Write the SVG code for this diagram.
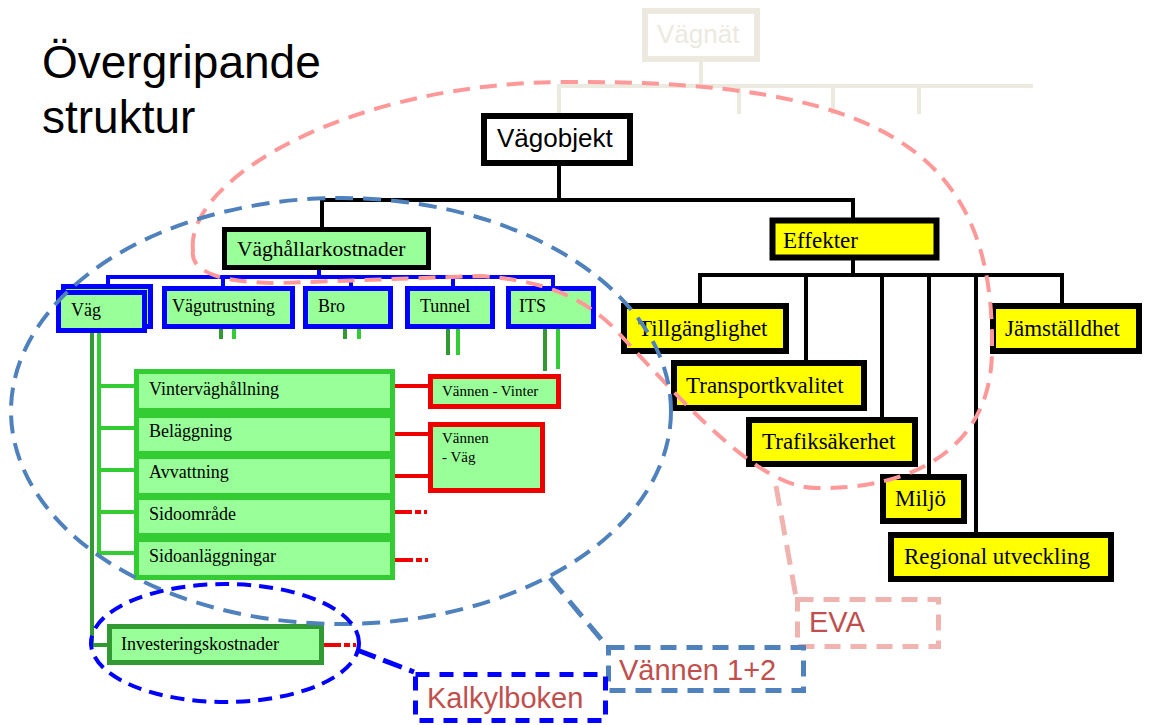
<svg xmlns="http://www.w3.org/2000/svg" width="1161" height="725" viewBox="0 0 1161 725">
<style>
.sans{font-family:"Liberation Sans",Arial,sans-serif}
.serif{font-family:"Liberation Serif","Times New Roman",serif;fill:#000}
.blk{fill:#fff;stroke:#000;stroke-width:6}
.grn{fill:#99FF99}
.bbox{fill:#99FF99;stroke:#0000FF;stroke-width:5}
.gbox{fill:#99FF99;stroke:#33CC33;stroke-width:5}
.rbox{fill:#99FF99;stroke:#EE0000;stroke-width:5}
.ybox{fill:#FFFF00;stroke:#000;stroke-width:6}
.l{fill:none;stroke-width:4}
.k{stroke:#000}
.beige{stroke:#ECE9DF}
.blue{stroke:#0000FF}
.lg{stroke:#33CC33}
.dg{stroke:#339933}
.red{stroke:#EE0000}
.reddot{stroke:#EE0000;stroke-width:4;stroke-dasharray:19 3 6 3 3 100}
.t18{font-size:18px}
.t23{font-size:23px}
.t15{font-size:15px}
.lbl{font-size:29px;fill:#C0504D}
</style>
<g id="title"><text class="sans" x="42" y="78" font-size="46">Övergripande</text><text class="sans" x="42" y="133" font-size="46">struktur</text></g>
<g id="connectors">
<path class="l beige" d="M701 62V86M557 86H1033M559 86V114M739 86V114M833 86V114M919 86V114"/>
<path class="l k" d="M559 166V200M320 200H855M322 200V227M853 200V218M853 260V275M698 275H1064M700 275V303M806 275V360M882 275V417M929 275V474M976 275V532M1062 275V303"/>
<path class="l blue" d="M319 270V277M106 277H555M108 277V284M223 277V286M351 277V286M453 277V286M553 277V286"/>
<path class="l dg" d="M221 329V339M345 329V339M448 329V355M545 329V371M92 333V645H108"/>
<path class="l lg" d="M234 329V339M359 329V339M458 329V355M558 329V369M99 333V555M99 386H136M99 428H136M99 470H136M99 512H136M99 553H136"/>
<path class="l red" d="M393 386H430M393 434H430M393 476H430"/>
<path class="reddot" d="M393 512H440M394 560H441M322 645H370"/>
</g>
<g id="vagnat"><rect x="645" y="11" width="112" height="48" fill="#fff" stroke="#ECE9DF" stroke-width="6"/><text class="sans" x="657" y="43" font-size="26" fill="#ECE9DF">Vägnät</text></g>
<g id="vagobjekt"><rect class="blk" x="484" y="116" width="146" height="47"/><text class="sans" x="497" y="147" font-size="26">Vägobjekt</text></g>
<g id="vaghallarkostnader"><rect class="grn" x="224.5" y="229.5" width="204" height="38" stroke="#000" stroke-width="5"/><text class="serif" x="237" y="256" font-size="21.5">Väghållarkostnader</text></g>
<g id="vag"><rect class="bbox" x="63.5" y="286.5" width="87" height="40"/><rect class="bbox" x="58.5" y="292.5" width="86" height="38"/><text class="serif t18" x="71" y="316">Väg</text></g>
<g id="vagutrustning"><rect class="bbox" x="164.5" y="288.5" width="128" height="38"/><text class="serif t18" x="172" y="312">Vägutrustning</text></g>
<g id="bro"><rect class="bbox" x="305.5" y="288.5" width="85" height="38"/><text class="serif t18" x="318" y="312">Bro</text></g>
<g id="tunnel"><rect class="bbox" x="407.5" y="288.5" width="85" height="38"/><text class="serif t18" x="420" y="312">Tunnel</text></g>
<g id="its"><rect class="bbox" x="508.5" y="288.5" width="85" height="38"/><text class="serif t18" x="519" y="312">ITS</text></g>
<g id="vinter"><rect class="gbox" x="136.5" y="371.5" width="256" height="39"/><text class="serif t18" x="149" y="395">Vinterväghållning</text></g>
<g id="belaggning"><rect class="gbox" x="136.5" y="415.5" width="256" height="38"/><text class="serif t18" x="149" y="437">Beläggning</text></g>
<g id="avvattning"><rect class="gbox" x="136.5" y="456.5" width="256" height="39"/><text class="serif t18" x="149" y="478">Avvattning</text></g>
<g id="sidoomrade"><rect class="gbox" x="136.5" y="497.5" width="256" height="38"/><text class="serif t18" x="149" y="520">Sidoområde</text></g>
<g id="sidoanlaggningar"><rect class="gbox" x="136.5" y="539.5" width="256" height="38"/><text class="serif t18" x="149" y="562">Sidoanläggningar</text></g>
<g id="vannen-vinter"><rect class="rbox" x="430.5" y="376.5" width="128" height="30"/><text class="serif t15" x="442" y="396">Vännen - Vinter</text></g>
<g id="vannen-vag"><rect class="rbox" x="430.5" y="424.5" width="112" height="66"/><text class="serif t15" x="442" y="443">Vännen</text><text class="serif t15" x="442" y="462">- Väg</text></g>
<g id="investering"><rect class="grn" x="109.5" y="626.5" width="212" height="36" stroke="#339933" stroke-width="5"/><text class="serif t18" x="121" y="650">Investeringskostnader</text></g>
<g id="effekter"><rect class="ybox" x="772.5" y="220.5" width="164" height="37" stroke-width="5"/><text class="serif t23" x="783" y="248">Effekter</text></g>
<g id="tillganglighet"><rect class="ybox" x="624" y="306" width="162" height="45"/><text class="serif t23" x="638" y="336">Tillgänglighet</text></g>
<g id="transportkvalitet"><rect class="ybox" x="674" y="363" width="190" height="45"/><text class="serif t23" x="686" y="393">Transportkvalitet</text></g>
<g id="trafiksakerhet"><rect class="ybox" x="749" y="420" width="166" height="44"/><text class="serif t23" x="762" y="449">Trafiksäkerhet</text></g>
<g id="miljo"><rect class="ybox" x="883" y="477" width="81" height="44"/><text class="serif t23" x="895" y="506">Miljö</text></g>
<g id="regional"><rect class="ybox" x="891" y="535" width="220" height="44"/><text class="serif t23" x="904" y="564">Regional utveckling</text></g>
<g id="jamstalldhet"><rect class="ybox" x="993" y="306" width="146" height="45"/><text class="serif t23" x="1005" y="336">Jämställdhet</text></g>
<g id="eva-group" fill="none">
<path d="M193 250C185 180 350 82 567 82C880 80 995 150 992 350C992 450 910 490 816 488C760 488 690 410 613 327C580 295 540 280 480 276L280 283C215 283 190 270 193 250Z" stroke="#FF9999" stroke-width="4" stroke-dasharray="17 10"/>
<path d="M776 486L796 597" stroke="#F0B4B0" stroke-width="5" stroke-dasharray="20 10"/>
<rect x="797.5" y="599.5" width="141" height="47" stroke="#F0B4B0" stroke-width="5" stroke-dasharray="16 10"/>
<text class="sans lbl" x="809" y="632">EVA</text>
</g>
<g id="vannen12-group" fill="none">
<ellipse cx="341" cy="411" rx="330" ry="213" stroke="#4F81BD" stroke-width="4" stroke-dasharray="18 10"/>
<path d="M550 578L606 645" stroke="#4F81BD" stroke-width="5" stroke-dasharray="20 10"/>
<rect x="608.5" y="647.5" width="195" height="43" stroke="#4F81BD" stroke-width="5" stroke-dasharray="16 10"/>
<text class="sans lbl" x="619" y="680">Vännen 1+2</text>
</g>
<g id="kalkylboken-group" fill="none">
<ellipse cx="225" cy="643" rx="134" ry="59" stroke="#0000FF" stroke-width="4" stroke-dasharray="14 8"/>
<path d="M357 650L414 672" stroke="#0000FF" stroke-width="5" stroke-dasharray="20 8"/>
<rect x="415.5" y="674.5" width="190" height="46" stroke="#0000FF" stroke-width="5" stroke-dasharray="14 10"/>
<text class="sans lbl" x="427" y="708">Kalkylboken</text>
</g>
</svg>
